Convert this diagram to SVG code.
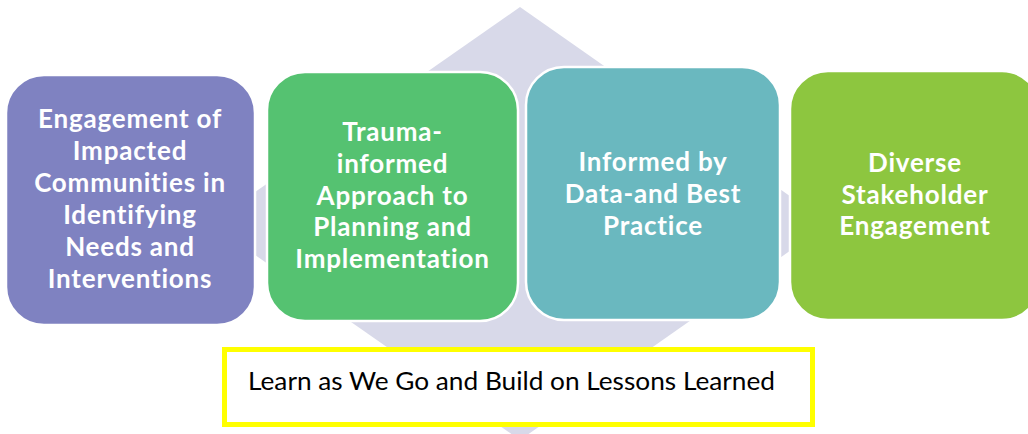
<svg xmlns="http://www.w3.org/2000/svg" width="1028" height="434" viewBox="0 0 1028 434">
  <style>
    .box { stroke: #ffffff; stroke-width: 2.5; }
    .lbl { font-family: Lato, "Open Sans", "Liberation Sans", sans-serif; font-weight: bold; font-size: 26px; letter-spacing: 0.8px; fill: #ffffff; text-anchor: middle; }
    .note { font-family: Lato, "Open Sans", "Liberation Sans", sans-serif; font-size: 25px; fill: #000000; }
  </style>
  <rect width="1028" height="434" fill="#ffffff"/>
  <g id="background-diamond">
    <polygon points="520,7 829,223.5 520,440 210,223.5" fill="#D8D9E9"/>
  </g>
  <g id="node-engagement">
    <rect class="box" x="6" y="75" width="249" height="250" rx="38" ry="38" fill="#7F82C1"/>
    <text class="lbl" x="130" y="128">Engagement of</text>
    <text class="lbl" x="130" y="160">Impacted</text>
    <text class="lbl" x="130" y="192">Communities in</text>
    <text class="lbl" x="130" y="224">Identifying</text>
    <text class="lbl" x="130" y="256">Needs and</text>
    <text class="lbl" x="130" y="288">Interventions</text>
  </g>
  <g id="node-trauma">
    <rect class="box" x="267" y="72" width="251" height="249" rx="38" ry="38" fill="#55C271"/>
    <text class="lbl" x="392.5" y="141">Trauma-</text>
    <text class="lbl" x="392.5" y="173">informed</text>
    <text class="lbl" x="392.5" y="204.5">Approach to</text>
    <text class="lbl" x="392.5" y="236">Planning and</text>
    <text class="lbl" x="392.5" y="268">Implementation</text>
  </g>
  <g id="node-data">
    <rect class="box" x="526" y="67" width="254" height="253" rx="38" ry="38" fill="#6AB8BF"/>
    <text class="lbl" x="653" y="171">Informed by</text>
    <text class="lbl" x="653" y="203">Data-and Best</text>
    <text class="lbl" x="653" y="234.5">Practice</text>
  </g>
  <g id="node-stakeholder">
    <rect class="box" x="790" y="71" width="250" height="249" rx="38" ry="38" fill="#8DC63F"/>
    <text class="lbl" x="915" y="172">Diverse</text>
    <text class="lbl" x="915" y="204">Stakeholder</text>
    <text class="lbl" x="915" y="235">Engagement</text>
  </g>
  <g id="node-learn">
    <rect x="224.5" y="349.5" width="588" height="75" fill="#ffffff" stroke="#FFFF00" stroke-width="5"/>
    <text class="note" x="248" y="390" textLength="527" lengthAdjust="spacingAndGlyphs">Learn as We Go and Build on Lessons Learned</text>
  </g>
</svg>
